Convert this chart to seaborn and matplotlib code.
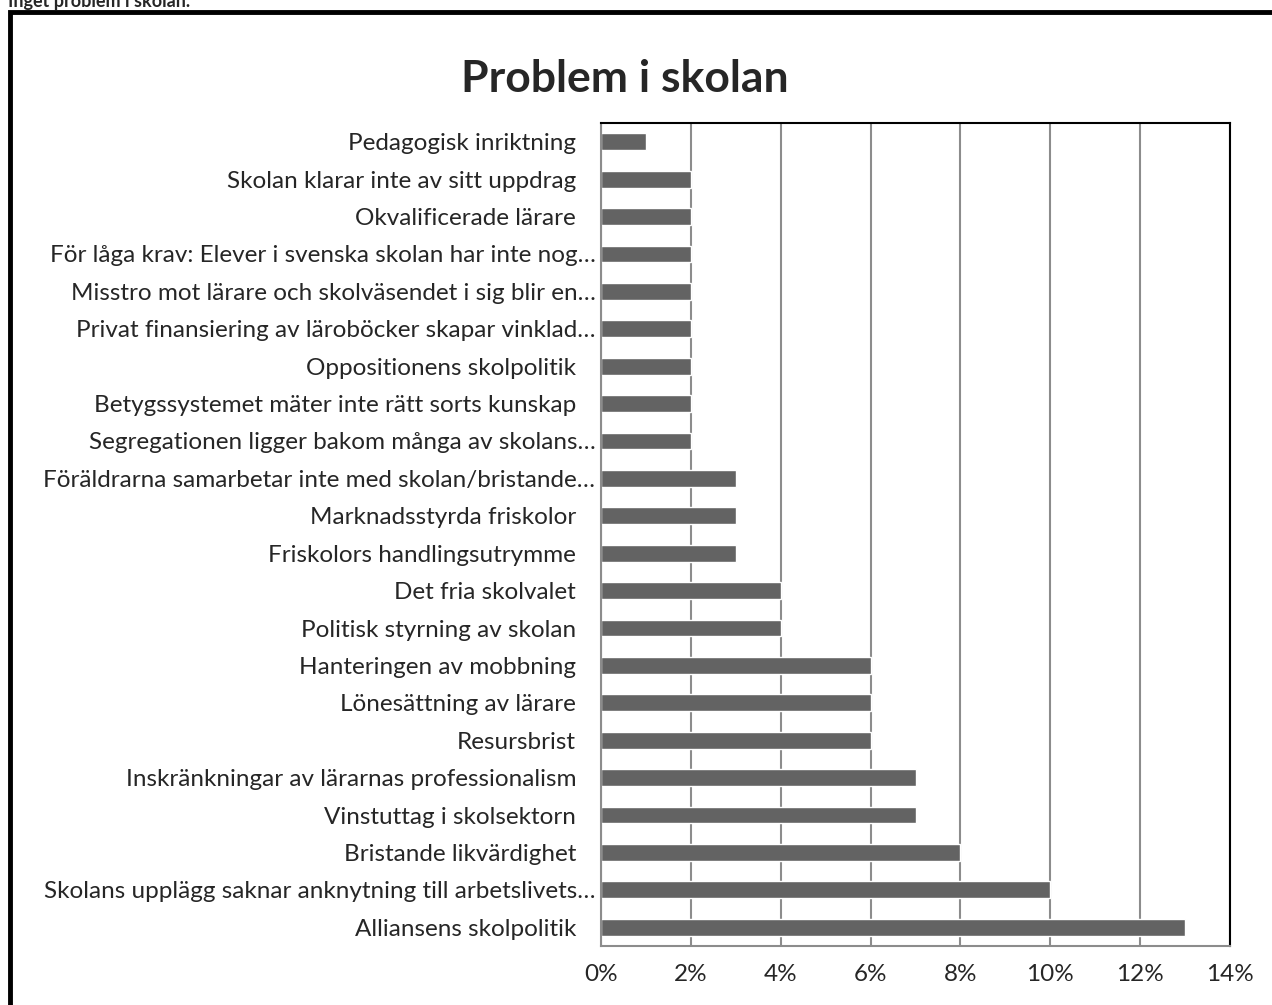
import matplotlib
matplotlib.use('Agg')
import matplotlib.pyplot as plt
import matplotlib.ticker as mticker
import matplotlib.transforms as mtransforms
from matplotlib.patches import Rectangle
import pandas as pd
import seaborn as sns

sns.set_style("white")
plt.rcParams['font.family'] = ['Lato', 'DejaVu Sans']

categories = [
    'Pedagogisk inriktning',
    'Skolan klarar inte av sitt uppdrag',
    'Okvalificerade lärare',
    'För låga krav: Elever i svenska skolan har inte nog…',
    'Misstro mot lärare och skolväsendet i sig blir en…',
    'Privat finansiering av läroböcker skapar vinklad…',
    'Oppositionens skolpolitik',
    'Betygssystemet mäter inte rätt sorts kunskap',
    'Segregationen ligger bakom många av skolans…',
    'Föräldrarna samarbetar inte med skolan/bristande…',
    'Marknadsstyrda friskolor',
    'Friskolors handlingsutrymme',
    'Det fria skolvalet',
    'Politisk styrning av skolan',
    'Hanteringen av mobbning',
    'Lönesättning av lärare',
    'Resursbrist',
    'Inskränkningar av lärarnas professionalism',
    'Vinstuttag i skolsektorn',
    'Bristande likvärdighet',
    'Skolans upplägg saknar anknytning till arbetslivets…',
    'Alliansens skolpolitik',
]
shares = [0.01, 0.02, 0.02, 0.02, 0.02, 0.02, 0.02, 0.02, 0.02, 0.03, 0.03,
          0.03, 0.04, 0.04, 0.06, 0.06, 0.06, 0.07, 0.07, 0.08, 0.10, 0.13]
x_ticks = [0, 0.02, 0.04, 0.06, 0.08, 0.10, 0.12, 0.14]

df = pd.DataFrame({'Problem': categories, 'Andel': shares})

fig = plt.figure(figsize=(12.72, 10.05), dpi=100)
ax = fig.add_axes([0.4725, 0.0587, 0.4945, 0.8189])
ax.set_axisbelow(True)
sns.barplot(data=df, y='Problem', x='Andel', orient='h', color='#636363',
            saturation=1, width=0.45, ax=ax)

ax.set_xlim(0, 0.14)
ax.set_xticks(x_ticks)
ax.xaxis.set_major_formatter(mticker.PercentFormatter(1.0, decimals=0))
ax.grid(True, axis='x', color='#8c8c8c', linewidth=1.5)
ax.set_xlabel('')
ax.set_ylabel('')
ax.tick_params(axis='y', labelsize=17.5, length=0, pad=18)
ax.tick_params(axis='x', labelsize=17.5, length=0, pad=13)
for side in ['left', 'bottom']:
    ax.spines[side].set_color('#8c8c8c')
    ax.spines[side].set_linewidth(1.5)
for side in ['top', 'right']:
    ax.spines[side].set_color('black')
    ax.spines[side].set_linewidth(1.5)

# truncated labels run a bit further right, as in Excel
shift = mtransforms.ScaledTranslation(14 / 72, 0, fig.dpi_scale_trans)
for lbl in ax.get_yticklabels():
    if lbl.get_text().endswith('…'):
        lbl.set_transform(lbl.get_transform() + shift)

fig.text(0.491, 0.921, 'Problem i skolan', ha='center', va='center',
         fontsize=32, fontweight='bold')
# chopped caption and frame at the top-left
fig.text(0.006, 0.999, 'Inget problem i skolan.', ha='left', va='center',
         fontsize=13, fontweight='bold')
fig.patches.append(Rectangle((0.0079, -0.1), 1.2, 1.088, transform=fig.transFigure,
                             fill=False, edgecolor='black', linewidth=3.5))

plt.savefig('out.png', dpi=100)
plt.close()
